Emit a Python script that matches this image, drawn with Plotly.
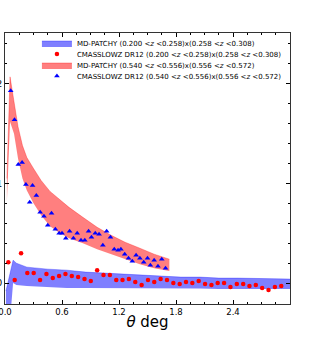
import plotly.graph_objects as go

# MD-PATCHY band, low z pair (0.200<z<0.258)x(0.258<z<0.308)
theta_lo = [0.01, 0.055, 0.085, 0.12, 0.23, 0.45, 0.65, 0.85, 1.05, 1.25, 1.45,
            1.65, 1.85, 2.05, 2.25, 2.45, 2.65, 2.85, 3.0]
lo_lower = [-0.45, -0.35, 0.0, -0.02, -0.03, -0.04, -0.05, -0.05, -0.05, -0.05, -0.05,
            -0.055, -0.055, -0.055, -0.06, -0.06, -0.06, -0.06, -0.06]
lo_upper = [-0.08, 0.12, 0.23, 0.20, 0.16, 0.14, 0.13, 0.11, 0.10, 0.09, 0.08,
            0.07, 0.06, 0.06, 0.05, 0.05, 0.045, 0.04, 0.04]

# CMASSLOWZ DR12, low z pair
theta_pts_lo = [0.035, 0.102, 0.169, 0.235, 0.302, 0.369, 0.436, 0.503, 0.569, 0.636,
                0.703, 0.770, 0.837, 0.903, 0.970, 1.037, 1.104, 1.171, 1.237, 1.304,
                1.371, 1.438, 1.505, 1.571, 1.638, 1.705, 1.772, 1.839, 1.905, 1.972,
                2.039, 2.106, 2.173, 2.239, 2.306, 2.373, 2.440, 2.507, 2.573, 2.640,
                2.707, 2.774, 2.841, 2.908]
xi_lo = [0.21, 0.03, 0.30, 0.10, 0.10, 0.03, 0.09, 0.05, 0.07, 0.09,
         0.07, 0.06, 0.04, 0.02, 0.13, 0.08, 0.08, 0.03, 0.03, 0.04,
         0.01, -0.02, 0.03, 0.01, 0.04, 0.03, 0.00, -0.01, 0.01, 0.00,
         0.02, -0.01, -0.02, 0.00, 0.00, -0.04, -0.01, -0.01, -0.03, -0.02,
         -0.05, -0.07, -0.04, -0.03]

# MD-PATCHY band, high z pair (0.540<z<0.556)x(0.556<z<0.572)
theta_hi = [0.02, 0.053, 0.095, 0.137, 0.184, 0.23, 0.30, 0.38, 0.474, 0.58,
            0.674, 0.82, 0.97, 1.117, 1.264, 1.42, 1.57, 1.73]
hi_lower = [0.82, 1.62, 1.50, 1.25, 1.05, 0.93, 0.80, 0.68, 0.57, 0.50,
            0.45, 0.40, 0.34, 0.29, 0.24, 0.19, 0.15, 0.12]
hi_upper = [1.05, 2.07, 1.82, 1.57, 1.38, 1.26, 1.15, 1.03, 0.92, 0.83,
            0.76, 0.66, 0.56, 0.48, 0.41, 0.35, 0.29, 0.24]

# CMASSLOWZ DR12, high z pair
theta_pts_hi = [0.06, 0.10, 0.14, 0.18, 0.22, 0.26, 0.29, 0.33, 0.37, 0.41,
                0.45, 0.49, 0.53, 0.57, 0.60, 0.64, 0.68, 0.72, 0.76, 0.80,
                0.84, 0.88, 0.91, 0.95, 0.99, 1.03, 1.07, 1.11, 1.15, 1.19,
                1.22, 1.26, 1.30, 1.34, 1.38, 1.42, 1.46, 1.50, 1.53, 1.57,
                1.61, 1.65, 1.69]
xi_hi = [1.93, 1.64, 1.19, 1.21, 0.99, 0.81, 0.98, 0.88, 0.71, 0.67,
         0.58, 0.70, 0.54, 0.50, 0.50, 0.45, 0.52, 0.45, 0.50, 0.43,
         0.43, 0.52, 0.46, 0.50, 0.49, 0.38, 0.52, 0.46, 0.34, 0.33,
         0.34, 0.29, 0.25, 0.22, 0.28, 0.25, 0.21, 0.25, 0.18, 0.23,
         0.17, 0.24, 0.15]

labels = [
    "MD-PATCHY (0.200 &lt;<i>z</i> &lt;0.258)x(0.258 &lt;<i>z</i> &lt;0.308)",
    "CMASSLOWZ DR12 (0.200 &lt;<i>z</i> &lt;0.258)x(0.258 &lt;<i>z</i> &lt;0.308)",
    "MD-PATCHY (0.540 &lt;<i>z</i> &lt;0.556)x(0.556 &lt;<i>z</i> &lt;0.572)",
    "CMASSLOWZ DR12 (0.540 &lt;<i>z</i> &lt;0.556)x(0.556 &lt;<i>z</i> &lt;0.572)",
]

blue_fill = "rgba(0,0,255,0.5)"
red_fill = "rgba(255,0,0,0.5)"

fig = go.Figure()

# low z band
fig.add_trace(go.Scatter(x=theta_lo, y=lo_lower, mode="lines", line=dict(width=0, color=blue_fill),
                         showlegend=False, hoverinfo="skip"))
fig.add_trace(go.Scatter(x=theta_lo, y=lo_upper, mode="lines", fill="tonexty", fillcolor=blue_fill,
                         line=dict(width=0.6, color=blue_fill), name=labels[0], legend="legend"))
fig.add_trace(go.Scatter(x=theta_pts_lo, y=xi_lo, mode="markers", name=labels[1], legend="legend2",
                         marker=dict(color="red", size=4.5, symbol="circle")))

# high z band
fig.add_trace(go.Scatter(x=theta_hi, y=hi_lower, mode="lines", line=dict(width=0, color=red_fill),
                         showlegend=False, hoverinfo="skip"))
fig.add_trace(go.Scatter(x=theta_hi, y=hi_upper, mode="lines", fill="tonexty", fillcolor=red_fill,
                         line=dict(width=0.6, color=red_fill), name=labels[2], legend="legend3"))
fig.add_trace(go.Scatter(x=theta_pts_hi, y=xi_hi, mode="markers", name=labels[3], legend="legend4",
                         marker=dict(color="blue", size=5, symbol="triangle-up")))

# plot area is 285 x 271 px; one legend per row to get matplotlib-like spacing
row_y = [43, 54, 65, 76]
leg_common = dict(x=0.112, xanchor="left", yanchor="middle", bgcolor="rgba(0,0,0,0)",
                  borderwidth=0, font=dict(size=7, family="DejaVu Sans", color="black"),
                  itemwidth=30)
legends = {}
for k, yy in zip(["legend", "legend2", "legend3", "legend4"], row_y):
    legends[k] = dict(leg_common, y=(304 - yy) / 271)

fig.update_layout(
    width=327, height=339,
    margin=dict(l=5, r=37, t=33, b=35, autoexpand=False),
    plot_bgcolor="white", paper_bgcolor="white",
    font=dict(family="DejaVu Sans", color="black"),
    **legends,
)

fig.update_xaxes(
    range=[0, 3.0], tickvals=[0, 0.6, 1.2, 1.8, 2.4], ticktext=["0.0", "0.6", "1.2", "1.8", "2.4"],
    ticks="inside", ticklen=4, tickcolor="black", mirror="ticks",
    showline=True, linecolor="#333", linewidth=1, showgrid=False, zeroline=False,
    tickfont=dict(size=8.5), ticklabeloverflow="allow",
    minor=dict(ticks="inside", dtick=0.15, tick0=0, ticklen=2, tickcolor="black", showgrid=False),
    title=dict(text="<i>θ</i> deg", font=dict(size=15), standoff=0),
    automargin=False,
)
fig.update_yaxes(
    range=[-0.21, 2.51], tickvals=[0, 1, 2], ticktext=["0", "1", "2"],
    ticks="inside", ticklen=4, tickcolor="black", mirror="ticks",
    showline=True, linecolor="#333", linewidth=1, showgrid=False, zeroline=False,
    tickfont=dict(size=9), ticklabeloverflow="allow",
    minor=dict(ticks="inside", dtick=0.2, tick0=0, ticklen=2, tickcolor="black", showgrid=False),
    automargin=False,
)

# the page body has a default 8px margin; drop it so the figure sits at the window corner
fig.write_html("out.html", config={"displayModeBar": False},
               post_script="document.body.style.margin='0';")
